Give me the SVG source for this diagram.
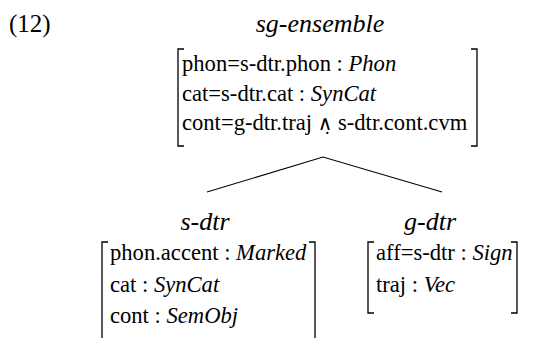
<svg xmlns="http://www.w3.org/2000/svg" width="555" height="338" viewBox="0 0 555 338">
<style>
text{font-family:"Liberation Serif","Times New Roman",serif;fill:#000}
.t{font-size:26px;font-style:italic;text-anchor:middle}
.r{font-size:22.6px}
.i{font-style:italic}
.w{font-family:"DejaVu Serif",serif;font-size:20px}
.br{fill:none;stroke:#000;stroke-width:1.3}
.ln{fill:none;stroke:#000;stroke-width:1.1}
</style>
<rect width="555" height="338" fill="#fff"/>
<text x="9" y="32" style="font-size:25px">(12)</text>
<g id="sg-ensemble">
<text class="t" x="320" y="32">sg-ensemble</text>
<path class="br" d="M184,49 H178 V146 H184 M471,49 H477 V146 H471"/>
<text class="r" x="182" y="71">phon=s-dtr.phon : <tspan class="i">Phon</tspan></text>
<text class="r" x="182" y="100.5">cat=s-dtr.cat : <tspan class="i">SynCat</tspan></text>
<text class="r" x="182" y="130">cont=g-dtr.traj <tspan class="w">∧̣</tspan> s-dtr.cont.cvm</text>
</g>
<g id="s-dtr">
<text class="t" x="205" y="230">s-dtr</text>
<path class="br" d="M108,242 H102 V338 M309,242 H315 V338"/>
<text class="r" x="110" y="260">phon.accent : <tspan class="i">Marked</tspan></text>
<text class="r" x="110" y="291.5">cat : <tspan class="i">SynCat</tspan></text>
<text class="r" x="110" y="323">cont : <tspan class="i">SemObj</tspan></text>
</g>
<g id="g-dtr">
<text class="t" x="430" y="230">g-dtr</text>
<path class="br" d="M374,242 H368 V313 H374 M511,242 H517 V313 H511"/>
<text class="r" x="376" y="260">aff=s-dtr : <tspan class="i">Sign</tspan></text>
<text class="r" x="376" y="291.5">traj : <tspan class="i">Vec</tspan></text>
</g>
<g id="connectors">
<path class="ln" d="M207,192 L323,157 L442,192"/>
</g>
</svg>
